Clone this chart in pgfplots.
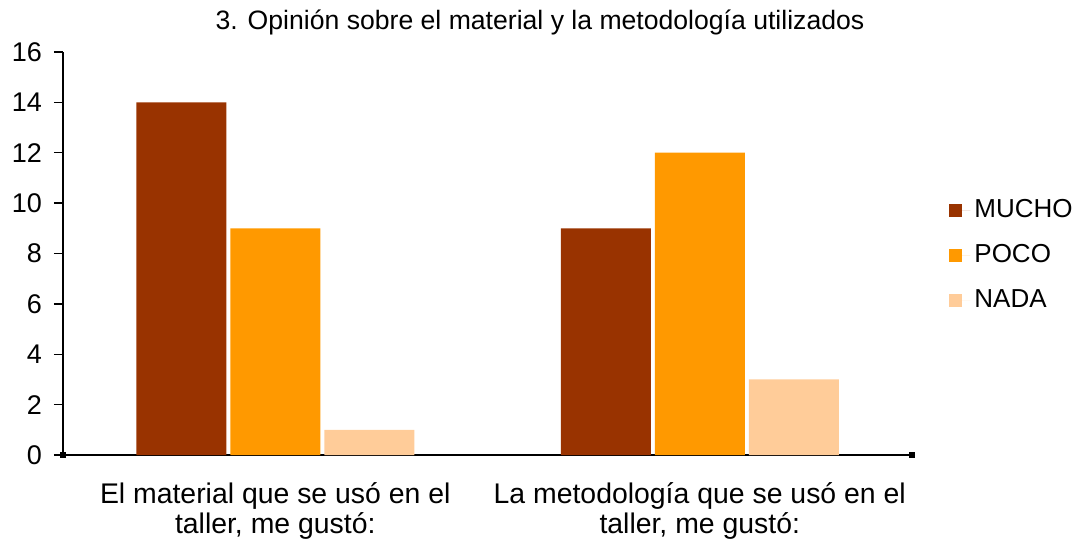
\documentclass[border=0pt]{standalone}
\usepackage{fontspec}
\setmainfont{Liberation Sans}
\usepackage{pgfplots}
\pgfplotsset{compat=1.18}
\definecolor{mucho}{HTML}{993300}
\definecolor{poco}{HTML}{FF9900}
\definecolor{nada}{HTML}{FFCC99}

\begin{document}
\begin{tikzpicture}
\useasboundingbox (-31.5pt,-45.5pt) rectangle (506.5pt,227.5pt);
\begin{axis}[
    scale only axis, width=424.5pt, height=201.5pt,
    axis lines*=left,
    ymin=0, ymax=16, ytick={0,2,...,16},
    xmin=-0.5, xmax=1.5, xtick={0,1},
    xticklabels={{El material que se usó en el\\taller, me gustó:},
                 {La metodología que se usó en el\\taller, me gustó:}},
    x tick label style={align=center, font=\fontsize{14.2}{15}\selectfont, yshift=-6pt},
    y tick label style={font=\fontsize{13.5}{15}\selectfont, xshift=-2.5pt},
    /pgf/number format/assume math mode=true,
    major x tick style={draw=none},
    y tick style={black, line width=0.7pt}, tick align=outside, major tick length=4.5pt,
    axis line style={black, line width=0.7pt},
    ybar=2pt, bar width=45pt,
    legend style={at={(1.0436,0.645)}, anchor=north west, draw=none, fill=none,
        font=\fontsize{13}{15}\selectfont, row sep=8pt, inner sep=0pt,
        cells={anchor=west}},
    legend image code/.code={\fill[#1] (0pt,-3.25pt) rectangle (6.5pt,3.25pt);
        \path (0pt,0pt) -- (10.5pt,0pt);},
]
\addplot[fill=mucho, draw=none] coordinates {(0,14) (1,9)};
\addlegendentry{MUCHO}
\addplot[fill=poco, draw=none] coordinates {(0,9) (1,12)};
\addlegendentry{POCO}
\addplot[fill=nada, draw=none] coordinates {(0,1) (1,3)};
\addlegendentry{NADA}
\draw[black, line width=0.7pt] (axis cs:0.5,0) -- ++(0,-4.5pt);
\end{axis}
\fill[black] (-1.5pt,-1.5pt) rectangle (1.5pt,1.5pt);
\fill[black] (423pt,-1.5pt) rectangle (426pt,1.5pt);
\node[anchor=base, font=\fontsize{13.3}{15}\selectfont] at (238.5pt,212.5pt)
    {3. Opinión sobre el material y la metodología utilizados};
\end{tikzpicture}
\end{document}
